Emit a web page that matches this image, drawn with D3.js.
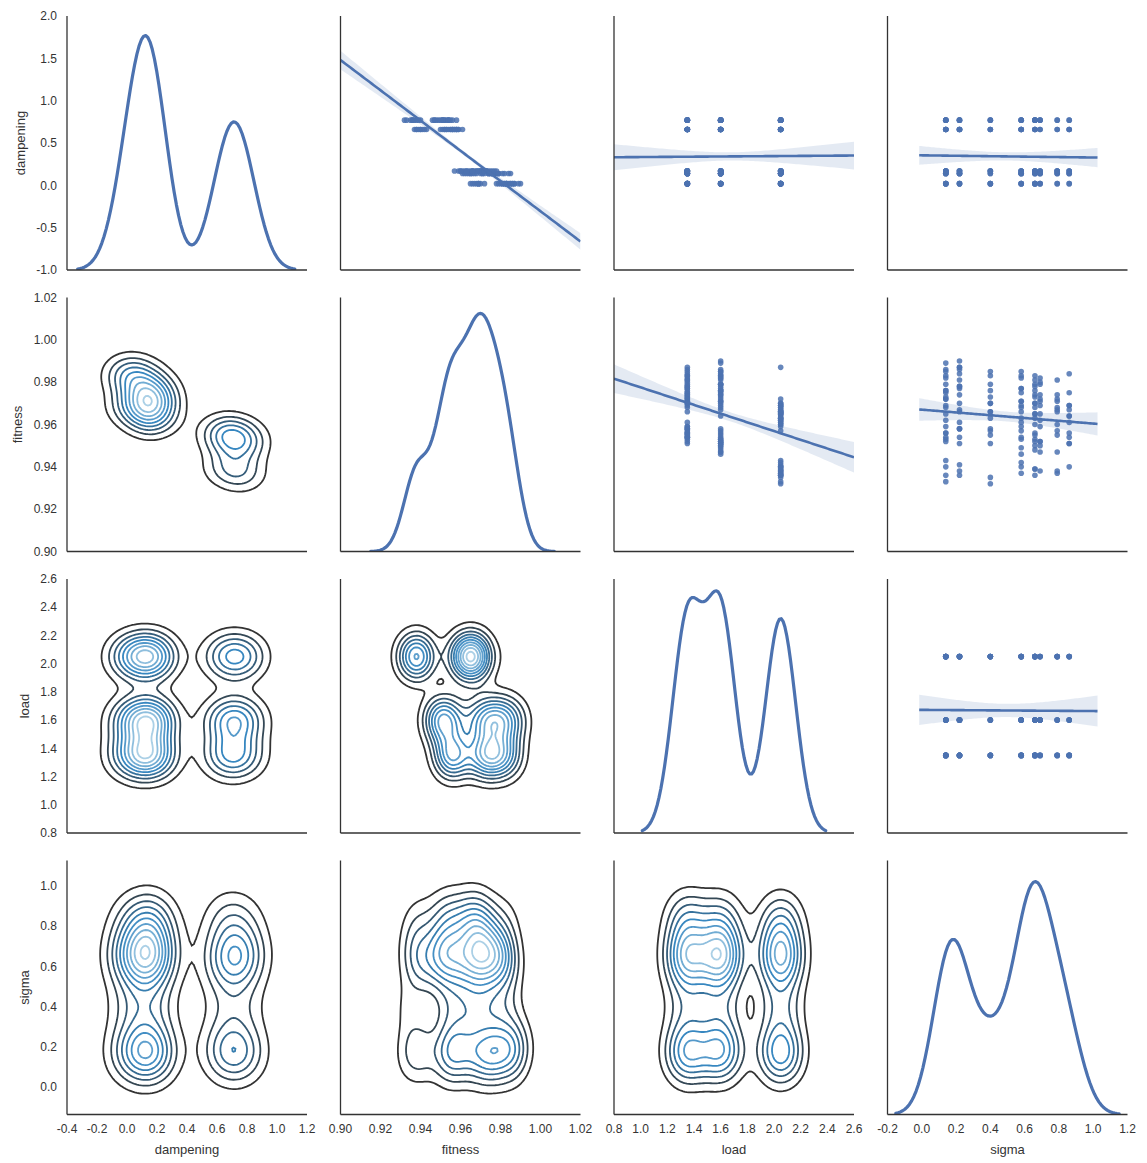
<!DOCTYPE html>
<html>
<head>
<meta charset="utf-8">
<script src="https://cdn.jsdelivr.net/npm/d3@7"></script>
<style>
  body { margin: 0; background: #fff; }
  text { font-family: "Liberation Sans", Arial, sans-serif; fill: #333; }
</style>
</head>
<body>
<script>
// variables of the pair grid
const vars = ["dampening", "fitness", "load", "sigma"];

const dampeningLevels = [0.02, 0.14, 0.17, 0.66, 0.77];
const loadLevels = [1.35, 1.6, 2.05];
const sigmaLevels = [0.14, 0.22, 0.40, 0.58, 0.66, 0.69, 0.79, 0.86];

// fitness per run: one row per dampening level, one column per sigma level (null = no run)
const fitnessLoad135 = [
  [0.986, 0.987, 0.983, 0.982, 0.981, 0.980, null, 0.984],
  [0.979, 0.981, null, 0.975, 0.974, 0.974, 0.972, null],
  [0.975, 0.977, 0.973, 0.971, 0.970, null, 0.968, 0.969],
  [0.959, 0.961, 0.958, 0.957, 0.956, null, 0.955, 0.954],
  [0.956, 0.958, null, 0.954, 0.953, 0.952, null, 0.951]
];
const fitnessLoad160 = [
  [0.989, 0.990, null, 0.983, 0.983, 0.982, 0.981, null],
  [0.982, 0.984, 0.979, 0.977, 0.976, null, 0.974, 0.975],
  [0.976, 0.978, null, 0.971, 0.970, 0.969, null, 0.967],
  [0.956, 0.958, 0.955, 0.953, 0.952, 0.952, null, 0.951],
  [0.952, 0.954, 0.951, 0.949, 0.948, 0.947, 0.947, null]
];
const fitnessLoad205 = [
  [0.972, 0.987, 0.970, 0.969, 0.968, null, 0.967, 0.969],
  [0.968, 0.970, null, 0.966, 0.965, 0.965, null, 0.964],
  [0.965, 0.966, 0.963, 0.961, 0.960, 0.959, 0.957, null],
  [0.943, 0.941, null, 0.940, 0.939, 0.938, 0.937, null],
  [0.933, 0.936, 0.935, 0.937, 0.936, null, 0.938, 0.940]
];

// repeated runs, same layout
const repeatLoad135 = [
  [0.983, null, 0.985, null, 0.978, null, null, null],
  [0.976, 0.978, null, 0.977, null, 0.971, null, null],
  [0.972, null, 0.970, null, 0.973, null, 0.966, null],
  [null, 0.958, null, 0.959, null, null, null, 0.956],
  [0.954, null, null, null, 0.955, null, null, null]
];
const repeatLoad160 = [
  [null, 0.986, null, 0.985, null, 0.979, null, null],
  [0.985, null, 0.976, null, 0.979, null, 0.971, null],
  [0.973, 0.974, null, 0.968, null, 0.972, null, 0.964],
  [0.953, null, 0.957, null, 0.950, null, null, null],
  [null, 0.951, null, 0.946, null, 0.950, null, null]
];
const repeatLoad205 = [
  [0.969, null, 0.966, null, 0.965, null, null, null],
  [null, 0.967, null, 0.963, null, 0.962, null, 0.961],
  [0.962, null, 0.966, null, 0.963, null, 0.960, null],
  [0.940, 0.938, null, 0.942, null, null, null, null],
  [0.936, null, 0.932, null, 0.939, null, null, null]
];

// axis ticks
const dampeningXTicks = [-0.4, -0.2, 0.0, 0.2, 0.4, 0.6, 0.8, 1.0, 1.2];
const dampeningYTicks = [-1.0, -0.5, 0.0, 0.5, 1.0, 1.5, 2.0];
const fitnessTicks = [0.90, 0.92, 0.94, 0.96, 0.98, 1.00, 1.02];
const loadTicks = [0.8, 1.0, 1.2, 1.4, 1.6, 1.8, 2.0, 2.2, 2.4, 2.6];
const sigmaXTicks = [-0.2, 0.0, 0.2, 0.4, 0.6, 0.8, 1.0, 1.2];
const sigmaYTicks = [0.0, 0.2, 0.4, 0.6, 0.8, 1.0];

const tables = [
  [fitnessLoad135, fitnessLoad160, fitnessLoad205],
  [repeatLoad135, repeatLoad160, repeatLoad205]
];
const samples = [];
tables.forEach(byLoad => loadLevels.forEach((l, li) => dampeningLevels.forEach((d, di) => sigmaLevels.forEach((s, si) => {
  const f = byLoad[li][di][si];
  if (f !== null) samples.push({ dampening: d, load: l, sigma: s, fitness: f });
}))));

const xDomains = { dampening: [-0.4, 1.2], fitness: [0.90, 1.02], load: [0.8, 2.6], sigma: [-0.2, 1.2] };
const yDomains = { dampening: [-1, 2], fitness: [0.90, 1.02], load: [0.8, 2.6], sigma: [-0.137, 1.127] };
const xTicks = { dampening: dampeningXTicks, fitness: fitnessTicks, load: loadTicks, sigma: sigmaXTicks };
const yTicks = { dampening: dampeningYTicks, fitness: fitnessTicks, load: loadTicks, sigma: sigmaYTicks };
const fmt = { dampening: v => v.toFixed(1), fitness: v => v.toFixed(2), load: v => v.toFixed(1), sigma: v => v.toFixed(1) };
// x range the fitted line covers (sigma column was fitted before the axes widened)
const regExtent = { sigma: [-0.015, 1.025] };

const blue = "#4C72B0";
const width = 1147, height = 1163;
const panelW = 240, panelH = 254;
const left0 = 67, top0 = 16, gapX = 33.5, gapY = 27.5;
const colLeft = i => left0 + i * (panelW + gapX);
const rowTop = i => top0 + i * (panelH + gapY);

const svg = d3.select("body").append("svg").attr("width", width).attr("height", height);
const defs = svg.append("defs");

const xScales = vars.map((v, i) => d3.scaleLinear().domain(xDomains[v]).range([colLeft(i), colLeft(i) + panelW]));
const yScales = vars.map((v, i) => d3.scaleLinear().domain(yDomains[v]).range([rowTop(i) + panelH, rowTop(i)]));

const column = v => samples.map(s => s[v]);
const gauss = z => Math.exp(-0.5 * z * z) / Math.sqrt(2 * Math.PI);

// scott bandwidth like statsmodels
function bwScott(a) {
  const sorted = a.slice().sort(d3.ascending);
  const iqr = (d3.quantileSorted(sorted, 0.75) - d3.quantileSorted(sorted, 0.25)) / 1.349;
  const sd = d3.deviation(a);
  const A = iqr > 0 ? Math.min(sd, iqr) : sd;
  return 1.059 * A * Math.pow(a.length, -0.2);
}

function kde1d(a) {
  const h = bwScott(a);
  const lo = d3.min(a) - 3 * h, hi = d3.max(a) + 3 * h;
  return d3.range(100).map(i => {
    const x = lo + i * (hi - lo) / 99;
    return [x, d3.mean(a, v => gauss((x - v) / h)) / h];
  });
}

function kde2d(xa, ya) {
  const n = 100, N = xa.length;
  const hx = bwScott(xa), hy = bwScott(ya);
  const x0 = d3.min(xa) - 3 * hx, dx = (d3.max(xa) + 3 * hx - x0) / (n - 1);
  const y0 = d3.min(ya) - 3 * hy, dy = (d3.max(ya) + 3 * hy - y0) / (n - 1);
  const kx = d3.range(n).map(i => xa.map(v => gauss((x0 + i * dx - v) / hx) / hx));
  const ky = d3.range(n).map(j => ya.map(v => gauss((y0 + j * dy - v) / hy) / hy));
  const values = new Array(n * n);
  for (let j = 0; j < n; j++) {
    for (let i = 0; i < n; i++) {
      let s = 0;
      for (let k = 0; k < N; k++) s += kx[i][k] * ky[j][k];
      values[j * n + i] = s / N;
    }
  }
  return { values, n, x0, dx, y0, dy };
}

// like the old matplotlib MaxNLocator(11) between 0 and zmax, levels strictly inside
function contourLevels(zmax) {
  const raw = zmax / 11;
  const mag = Math.pow(10, Math.floor(Math.log10(raw)));
  let step = 10 * mag;
  for (const s of [1, 1.5, 2, 2.5, 3, 4, 5, 6, 8, 10]) { if (s * mag >= raw) { step = s * mag; break; } }
  const levels = [];
  for (let k = 1; k * step < zmax; k++) levels.push(k * step);
  return levels;
}

const cmap = d3.scaleLinear().domain([0, 0.5, 1]).range(["#333333", "#3787c0", "#abd0e6"]);

function regFit(xa, ya) {
  const n = xa.length, mx = d3.mean(xa), my = d3.mean(ya);
  let sxx = 0, sxy = 0;
  for (let k = 0; k < n; k++) { sxx += (xa[k] - mx) ** 2; sxy += (xa[k] - mx) * (ya[k] - my); }
  const b = sxy / sxx, a = my - b * mx;
  let sse = 0;
  for (let k = 0; k < n; k++) sse += (ya[k] - a - b * xa[k]) ** 2;
  const s = Math.sqrt(sse / (n - 2));
  return { predict: x => a + b * x, half: x => 1.977 * s * Math.sqrt(1 / n + (x - mx) ** 2 / sxx) };
}

vars.forEach((yv, r) => {
  vars.forEach((xv, c) => {
    const xs = xScales[c], ys = yScales[r];
    const id = `clip-${r}-${c}`;
    defs.append("clipPath").attr("id", id).append("rect")
      .attr("x", colLeft(c)).attr("y", rowTop(r)).attr("width", panelW).attr("height", panelH);
    const g = svg.append("g").attr("clip-path", `url(#${id})`);

    if (r === c) {
      // diagonal kde on its own density axis
      const dens = kde1d(column(xv));
      const dy = d3.scaleLinear().domain([0, d3.max(dens, d => d[1])]).nice()
        .range([rowTop(r) + panelH, rowTop(r)]);
      g.append("path")
        .attr("d", d3.line().x(d => xs(d[0])).y(d => dy(d[1])).curve(d3.curveLinear)(dens))
        .attr("fill", "none").attr("stroke", blue).attr("stroke-width", 3.2)
        .attr("stroke-linejoin", "round").attr("stroke-linecap", "round");
    } else if (r > c) {
      // bivariate kde contours
      const k = kde2d(column(xv), column(yv));
      const levels = contourLevels(d3.max(k.values));
      const conts = d3.contours().size([k.n, k.n]).thresholds(levels)(k.values);
      const proj = d3.geoTransform({
        point(px, py) {
          this.stream.point(xs(k.x0 + (px - 0.5) * k.dx), ys(k.y0 + (py - 0.5) * k.dy));
        }
      });
      const path = d3.geoPath(proj);
      const m = levels.length;
      g.selectAll("path").data(conts).enter().append("path")
        .attr("d", path)
        .attr("fill", "none")
        .attr("stroke", (d, i) => cmap(m > 1 ? i / (m - 1) : 0))
        .attr("stroke-width", 1.8);
    } else {
      // regression plot
      const xa = column(xv), ya = column(yv);
      g.selectAll("circle").data(samples).enter().append("circle")
        .attr("cx", d => xs(d[xv])).attr("cy", d => ys(d[yv])).attr("r", 2.8)
        .attr("fill", blue).attr("fill-opacity", 0.85);
      const fit = regFit(xa, ya);
      const ext = regExtent[xv] || xDomains[xv];
      const grid = d3.range(101).map(i => ext[0] + i * (ext[1] - ext[0]) / 100);
      g.append("path")
        .attr("d", d3.area().x(x => xs(x))
          .y0(x => ys(fit.predict(x) - fit.half(x)))
          .y1(x => ys(fit.predict(x) + fit.half(x)))(grid))
        .attr("fill", blue).attr("fill-opacity", 0.15);
      g.append("path")
        .attr("d", d3.line().x(x => xs(x)).y(x => ys(fit.predict(x)))(grid))
        .attr("fill", "none").attr("stroke", blue).attr("stroke-width", 2.6);
    }

    // spines
    svg.append("line").attr("x1", colLeft(c)).attr("x2", colLeft(c))
      .attr("y1", rowTop(r)).attr("y2", rowTop(r) + panelH)
      .attr("stroke", "#333").attr("stroke-width", 1.3);
    svg.append("line").attr("x1", colLeft(c)).attr("x2", colLeft(c) + panelW)
      .attr("y1", rowTop(r) + panelH).attr("y2", rowTop(r) + panelH)
      .attr("stroke", "#333").attr("stroke-width", 1.3);
  });
});

// y tick labels and labels on first column
vars.forEach((v, r) => {
  const tg = svg.append("g");
  tg.selectAll("text").data(yTicks[v]).enter().append("text")
    .attr("x", colLeft(0) - 10).attr("y", d => yScales[r](d)).attr("dy", "0.35em")
    .attr("text-anchor", "end").attr("font-size", 12).text(d => fmt[v](d));
  const bb = tg.node().getBBox();
  svg.append("text")
    .attr("transform", `translate(${bb.x - 16},${rowTop(r) + panelH / 2}) rotate(-90)`)
    .attr("dy", "0.35em").attr("text-anchor", "middle").attr("font-size", 13).text(v);
});

// x tick labels and labels on bottom row
vars.forEach((v, c) => {
  const base = rowTop(3) + panelH;
  svg.append("g").selectAll("text").data(xTicks[v]).enter().append("text")
    .attr("x", d => xScales[c](d)).attr("y", base + 18)
    .attr("text-anchor", "middle").attr("font-size", 12).text(d => fmt[v](d));
  svg.append("text").attr("x", colLeft(c) + panelW / 2).attr("y", base + 39)
    .attr("text-anchor", "middle").attr("font-size", 13).text(v);
});
</script>
</body>
</html>
